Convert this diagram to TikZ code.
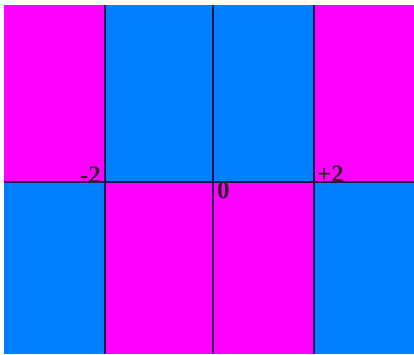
\documentclass[tikz,border=0pt]{standalone}
\usepackage{fontspec}
\setmainfont{Liberation Serif}
\usetikzlibrary{positioning}
\definecolor{fieldpink}{RGB}{255,0,255}
\definecolor{fieldblue}{RGB}{0,128,255}
\definecolor{gridnavy}{RGB}{30,20,90}

\begin{document}
\begin{tikzpicture}[
  x=1pt, y=-1pt,
  cell/.style={draw=none},
  gridline/.style={gridnavy, line width=1.8pt},
  tick/.style={font=\fontsize{25}{25}\selectfont\bfseries, text=black!85, inner sep=1pt},
]
\useasboundingbox[fill=white] (0,0) rectangle (414,354);

% ---- upper half ----
\fill[cell, fieldpink] (4,5) rectangle (105,182);
\fill[cell, fieldblue] (105,5) rectangle (314,182);
\fill[cell, fieldpink] (314,5) rectangle (414,182);

% ---- lower half ----
\fill[cell, fieldblue] (4,182) rectangle (105,354);
\fill[cell, fieldpink] (105,182) rectangle (314,354);
\fill[cell, fieldblue] (314,182) rectangle (414,354);

% ---- axis and grid lines ----
\coordinate (left) at (4,182);
\coordinate (right) at (414,182);
\coordinate (m2) at (105,182);
\coordinate (zero) at (213,182);
\coordinate (p2) at (314,182);
\draw[gridline] (left) -- (right);
\foreach \c in {m2,zero,p2}
  \draw[gridline] (\c |- 0,5) -- (\c |- 0,354);

% ---- tick labels ----
\node[tick, anchor=south east] (lblm2) at ([xshift=-3pt,yshift=-3pt]m2) {-2};
\node[tick, anchor=north west] (lblzero) at ([xshift=3pt,yshift=1pt]zero) {0};
\node[tick, anchor=south west] (lblp2) at ([xshift=2pt,yshift=-2pt]p2) {+2};

\end{tikzpicture}
\end{document}
